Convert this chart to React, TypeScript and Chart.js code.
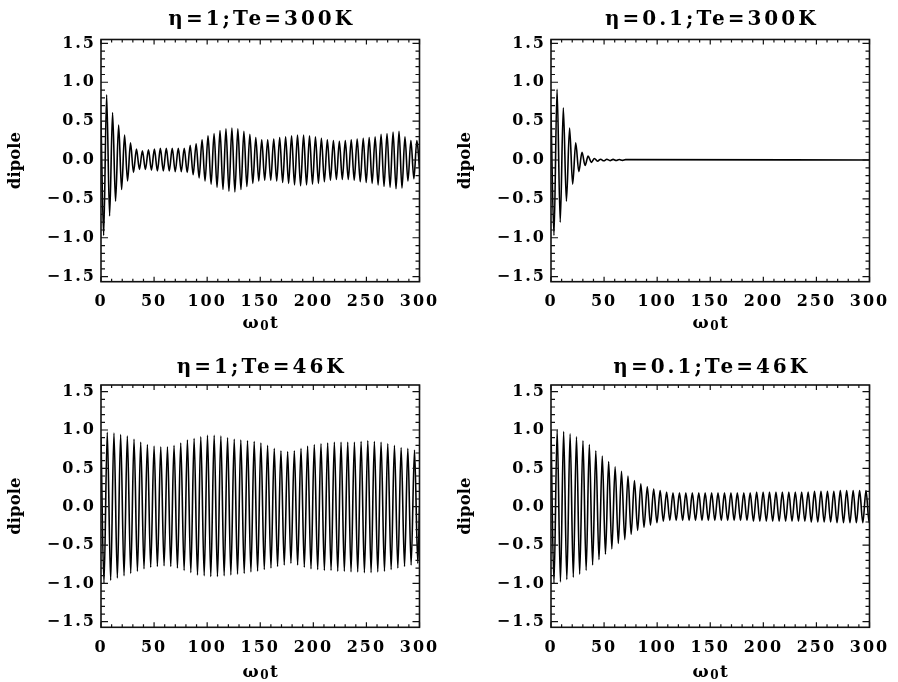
import React, { useEffect, useRef } from "react";
import { Chart, registerables } from "chart.js";

Chart.register(...registerables);

// ---------- text ----------
const titles = ["η=1;Te=300K", "η=0.1;Te=300K", "η=1;Te=46K", "η=0.1;Te=46K"];
const yTitle = "dipole";
const xTitleMain = "ω";
const xTitleSub = "0";
const xTitleEnd = "t";

// ---------- ticks ----------
const xTicks = [0, 50, 100, 150, 200, 250, 300];
const xTickLabels = ["0", "50", "100", "150", "200", "250", "300"];
const yTicks = [-1.5, -1.0, -0.5, 0, 0.5, 1.0, 1.5];
const yTickLabels = ["−1.5", "−1.0", "−0.5", "0.0", "0.5", "1.0", "1.5"];

// ---------- data: extrema of the oscillation ----------
// eta = 1, Te = 300K
const tlT = [0, 2.5, 5.3, 8.1, 10.9, 13.7, 16.6, 19.4, 22.2, 25.0, 27.8, 30.6, 33.4, 36.2, 39.0, 41.8, 44.7, 47.5, 50.3, 53.1, 55.9, 58.7, 61.5, 64.3, 67.1, 69.9, 72.8, 75.6, 78.4, 81.2, 84.0, 86.8, 89.6, 92.4, 95.2, 98.0, 100.8, 103.7, 106.5, 109.3, 112.1, 114.9, 117.7, 120.5, 123.3, 126.1, 128.9, 131.8, 134.6, 137.4, 140.2, 143.0, 145.8, 148.6, 151.4, 154.2, 157.0, 159.9, 162.7, 165.5, 168.3, 171.1, 173.9, 176.7, 179.5, 182.3, 185.1, 188.0, 190.8, 193.6, 196.4, 199.2, 202.0, 204.8, 207.6, 210.4, 213.2, 216.1, 218.9, 221.7, 224.5, 227.3, 230.1, 232.9, 235.7, 238.5, 241.3, 244.2, 247.0, 249.8, 252.6, 255.4, 258.2, 261.0, 263.8, 266.6, 269.4, 272.3, 275.1, 277.9, 280.7, 283.5, 286.3, 289.1, 291.9, 294.7, 297.5, 300];
const tlV = [0.5, -0.97, 0.84, -0.72, 0.61, -0.53, 0.45, -0.38, 0.32, -0.27, 0.22, -0.16, 0.14, -0.12, 0.12, -0.12, 0.13, -0.13, 0.14, -0.14, 0.15, -0.14, 0.15, -0.14, 0.15, -0.15, 0.15, -0.15, 0.15, -0.16, 0.19, -0.19, 0.21, -0.23, 0.26, -0.27, 0.31, -0.31, 0.34, -0.35, 0.38, -0.38, 0.40, -0.40, 0.41, -0.41, 0.40, -0.38, 0.37, -0.34, 0.33, -0.30, 0.29, -0.27, 0.26, -0.26, 0.26, -0.26, 0.27, -0.27, 0.29, -0.29, 0.30, -0.30, 0.31, -0.32, 0.32, -0.33, 0.32, -0.32, 0.31, -0.31, 0.30, -0.30, 0.28, -0.28, 0.26, -0.26, 0.25, -0.25, 0.24, -0.25, 0.25, -0.25, 0.26, -0.26, 0.27, -0.28, 0.28, -0.29, 0.29, -0.30, 0.30, -0.32, 0.33, -0.34, 0.34, -0.35, 0.36, -0.37, 0.37, -0.36, 0.30, -0.27, 0.25, -0.24, 0.25, -0.1];

// eta = 0.1, Te = 300K
const trT = [0, 2.8, 5.7, 8.7, 11.6, 14.5, 17.5, 20.4, 23.3, 26.2, 29.2, 32.1, 35.0, 38.0, 40.9, 43.8, 46.8, 49.7, 52.6, 55.6, 58.5, 61.4, 64.3, 67.3, 70.2, 300];
const trV = [0.6, -0.97, 0.91, -0.80, 0.67, -0.53, 0.41, -0.31, 0.22, -0.15, 0.10, -0.07, 0.05, -0.03, 0.02, -0.015, 0.01, -0.01, 0.01, -0.008, 0.008, -0.006, 0.006, -0.005, 0.005, 0];

// eta = 1, Te = 46K
const blT = [0, 2.8, 5.9, 9.1, 12.2, 15.4, 18.5, 21.7, 24.8, 28.0, 31.1, 34.3, 37.4, 40.5, 43.7, 46.8, 50.0, 53.1, 56.3, 59.4, 62.6, 65.7, 68.8, 72.0, 75.1, 78.3, 81.4, 84.6, 87.7, 90.9, 94.0, 97.2, 100.3, 103.4, 106.6, 109.7, 112.9, 116.0, 119.2, 122.3, 125.5, 128.6, 131.7, 134.9, 138.0, 141.2, 144.3, 147.5, 150.6, 153.8, 156.9, 160.1, 163.2, 166.3, 169.5, 172.6, 175.8, 178.9, 182.1, 185.2, 188.4, 191.5, 194.6, 197.8, 200.9, 204.1, 207.2, 210.4, 213.5, 216.7, 219.8, 223.0, 226.1, 229.2, 232.4, 235.5, 238.7, 241.8, 245.0, 248.1, 251.3, 254.4, 257.5, 260.7, 263.8, 267.0, 270.1, 273.3, 276.4, 279.6, 282.7, 285.9, 289.0, 292.1, 295.3, 298.4, 300];
const blV = [0.9, -1.00, 0.97, -0.96, 0.96, -0.93, 0.94, -0.90, 0.92, -0.87, 0.88, -0.84, 0.84, -0.81, 0.81, -0.79, 0.79, -0.78, 0.78, -0.77, 0.78, -0.78, 0.80, -0.80, 0.83, -0.83, 0.87, -0.86, 0.89, -0.89, 0.91, -0.90, 0.93, -0.91, 0.93, -0.91, 0.92, -0.90, 0.90, -0.89, 0.88, -0.88, 0.87, -0.87, 0.86, -0.85, 0.85, -0.84, 0.83, -0.82, 0.80, -0.80, 0.76, -0.78, 0.73, -0.76, 0.72, -0.74, 0.73, -0.76, 0.76, -0.79, 0.79, -0.81, 0.81, -0.82, 0.82, -0.83, 0.83, -0.83, 0.84, -0.84, 0.84, -0.84, 0.84, -0.85, 0.84, -0.85, 0.85, -0.86, 0.86, -0.86, 0.85, -0.85, 0.84, -0.84, 0.82, -0.82, 0.80, -0.80, 0.77, -0.78, 0.76, -0.76, 0.74, -0.74, 0.0];

// eta = 0.1, Te = 46K
const brT = [0, 2.8, 5.8, 8.9, 11.9, 14.9, 18.0, 21.0, 24.0, 27.0, 30.1, 33.1, 36.1, 39.2, 42.2, 45.2, 48.3, 51.3, 54.3, 57.3, 60.4, 63.4, 66.4, 69.5, 72.5, 75.5, 78.6, 81.6, 84.6, 87.6, 90.7, 93.7, 96.7, 99.8, 102.8, 105.8, 108.9, 111.9, 114.9, 117.9, 121.0, 124.0, 127.0, 130.1, 133.1, 136.1, 139.2, 142.2, 145.2, 148.2, 151.3, 154.3, 157.3, 160.4, 163.4, 166.4, 169.5, 172.5, 175.5, 178.5, 181.6, 184.6, 187.6, 190.7, 193.7, 196.7, 199.8, 202.8, 205.8, 208.8, 211.9, 214.9, 217.9, 221.0, 224.0, 227.0, 230.1, 233.1, 236.1, 239.1, 242.2, 245.2, 248.2, 251.3, 254.3, 257.3, 260.4, 263.4, 266.4, 269.4, 272.5, 275.5, 278.5, 281.6, 284.6, 287.6, 290.7, 293.7, 296.7, 299.7, 300];
const brV = [1.0, -1.0, 1.0, -0.98, 0.98, -0.95, 0.95, -0.92, 0.91, -0.88, 0.86, -0.83, 0.81, -0.76, 0.73, -0.69, 0.66, -0.62, 0.59, -0.55, 0.52, -0.48, 0.46, -0.43, 0.40, -0.36, 0.34, -0.31, 0.30, -0.27, 0.26, -0.24, 0.23, -0.21, 0.21, -0.19, 0.19, -0.18, 0.18, -0.18, 0.18, -0.18, 0.18, -0.18, 0.18, -0.18, 0.18, -0.18, 0.18, -0.18, 0.18, -0.18, 0.18, -0.18, 0.18, -0.18, 0.18, -0.18, 0.18, -0.18, 0.18, -0.18, 0.18, -0.19, 0.19, -0.19, 0.19, -0.19, 0.19, -0.19, 0.19, -0.19, 0.19, -0.19, 0.19, -0.19, 0.19, -0.19, 0.19, -0.19, 0.19, -0.20, 0.20, -0.20, 0.20, -0.20, 0.20, -0.20, 0.20, -0.21, 0.21, -0.21, 0.21, -0.21, 0.21, -0.21, 0.21, -0.21, 0.21, -0.21, -0.2];

const FONT = '"DejaVu Serif", "Liberation Serif", serif';

type PanelCfg = {
  left: number; top: number; w: number; h: number;
  area: { left: number; right: number; top: number; bottom: number };
  yMin: number; yMax: number;
  title: string; titleBase: number; xLabelY: number; yLabelX: number;
  t: number[]; v: number[];
};

function makeFramePlugin(p: PanelCfg) {
  return {
    id: "frameText",
    beforeDraw(chart: any) {
      chart.ctx.letterSpacing = "2px";
    },
    afterDraw(chart: any) {
      const { ctx, chartArea: a, scales } = chart;
      const xs = scales.x;
      const ys = scales.y;
      ctx.save();
      ctx.letterSpacing = "0px";
      ctx.strokeStyle = "#111";
      ctx.lineWidth = 1.6;
      ctx.strokeRect(a.left, a.top, a.right - a.left, a.bottom - a.top);
      ctx.lineWidth = 1.2;
      ctx.beginPath();
      for (let v = 0; v <= 300; v += 10) {
        const len = v % 50 === 0 ? 5 : 3;
        const x = xs.getPixelForValue(v);
        ctx.moveTo(x, a.bottom);
        ctx.lineTo(x, a.bottom - len);
        ctx.moveTo(x, a.top);
        ctx.lineTo(x, a.top + len);
      }
      for (let i = -15; i <= 15; i++) {
        const len = i % 5 === 0 ? 7 : 4;
        const y = ys.getPixelForValue(i / 10);
        ctx.moveTo(a.left, y);
        ctx.lineTo(a.left + len, y);
        ctx.moveTo(a.right, y);
        ctx.lineTo(a.right - len, y);
      }
      ctx.stroke();

      const cx = (a.left + a.right) / 2;
      ctx.fillStyle = "#000";
      // title
      ctx.font = `bold 20px ${FONT}`;
      ctx.letterSpacing = "3px";
      ctx.textAlign = "center";
      ctx.textBaseline = "alphabetic";
      ctx.fillText(p.title, cx + 1.5, p.titleBase);
      // x label: omega, subscript zero, t
      ctx.letterSpacing = "0px";
      ctx.textAlign = "left";
      const mainFont = `bold 17px ${FONT}`;
      const subFont = `bold 12px ${FONT}`;
      ctx.font = mainFont;
      const w1 = ctx.measureText(xTitleMain).width;
      const w3 = ctx.measureText(xTitleEnd).width;
      ctx.font = subFont;
      const w2 = ctx.measureText(xTitleSub).width;
      const gap = 1.5;
      const total = w1 + gap + w2 + gap + w3;
      let xx = cx - total / 2;
      const base = p.xLabelY + 5;
      ctx.font = mainFont;
      ctx.fillText(xTitleMain, xx, base);
      xx += w1 + gap;
      ctx.font = subFont;
      ctx.fillText(xTitleSub, xx, base + 2);
      xx += w2 + gap;
      ctx.font = mainFont;
      ctx.fillText(xTitleEnd, xx, base);
      // y label
      ctx.font = `bold 16.5px ${FONT}`;
      ctx.textAlign = "center";
      ctx.textBaseline = "middle";
      ctx.save();
      ctx.translate(p.yLabelX, (a.top + a.bottom) / 2);
      ctx.rotate(-Math.PI / 2);
      ctx.fillText(yTitle, 0, 0);
      ctx.restore();
      ctx.restore();
    },
  };
}

function makeConfig(p: PanelCfg): any {
  const pts = p.t.map((t, i) => ({ x: t, y: p.v[i] }));
  const tickFont = { family: FONT, size: 16, weight: "bold" as const };
  return {
    type: "line",
    data: {
      datasets: [
        {
          data: pts,
          borderColor: "#000",
          borderWidth: 1.6,
          pointRadius: 0,
          fill: false,
          cubicInterpolationMode: "monotone",
        },
      ],
    },
    options: {
      animation: false,
      responsive: false,
      devicePixelRatio: 1,
      events: [],
      layout: { padding: { left: 0, right: p.w - p.area.right, top: p.area.top, bottom: 0 } },
      plugins: { legend: { display: false }, tooltip: { enabled: false }, title: { display: false } },
      scales: {
        x: {
          type: "linear",
          min: 0,
          max: 300,
          grid: { display: false, drawTicks: false },
          border: { display: false },
          afterBuildTicks: (s: any) => {
            s.ticks = xTicks.map((v) => ({ value: v }));
          },
          afterFit: (s: any) => {
            s.height = p.h - p.area.bottom;
          },
          ticks: {
            font: tickFont,
            color: "#000",
            padding: 10.5,
            autoSkip: false,
            maxRotation: 0,
            minRotation: 0,
            callback: (_v: any, i: number) => xTickLabels[i],
          },
        },
        y: {
          type: "linear",
          min: p.yMin,
          max: p.yMax,
          grid: { display: false, drawTicks: false },
          border: { display: false },
          afterBuildTicks: (s: any) => {
            s.ticks = yTicks.map((v) => ({ value: v }));
          },
          afterFit: (s: any) => {
            s.width = p.area.left;
          },
          ticks: {
            font: tickFont,
            color: "#000",
            padding: 5,
            autoSkip: false,
            callback: (_v: any, i: number) => yTickLabels[i],
          },
        },
      },
    },
    plugins: [makeFramePlugin(p)],
  };
}

const topArea = { left: 101, right: 419.5, top: 39.5, bottom: 281.7 };
const botArea = { left: 101, right: 419.5, top: 44, bottom: 286.3 };

const panels: PanelCfg[] = [
  { left: 0, top: 0, w: 449, h: 341, area: topArea, yMin: -1.565, yMax: 1.55, title: titles[0], titleBase: 25, xLabelY: 323, yLabelX: 15.5, t: tlT, v: tlV },
  { left: 450, top: 0, w: 448, h: 341, area: topArea, yMin: -1.565, yMax: 1.55, title: titles[1], titleBase: 25, xLabelY: 323, yLabelX: 15.5, t: trT, v: trV },
  { left: 0, top: 341, w: 449, h: 341, area: botArea, yMin: -1.573, yMax: 1.587, title: titles[2], titleBase: 32.3, xLabelY: 330.7, yLabelX: 15.5, t: blT, v: blV },
  { left: 450, top: 341, w: 448, h: 341, area: botArea, yMin: -1.573, yMax: 1.587, title: titles[3], titleBase: 32.3, xLabelY: 330.7, yLabelX: 15.5, t: brT, v: brV },
];

function Panel({ p }: { p: PanelCfg }) {
  const ref = useRef<HTMLCanvasElement | null>(null);
  useEffect(() => {
    if (!ref.current) return;
    const chart = new Chart(ref.current, makeConfig(p));
    return () => chart.destroy();
  }, [p]);
  return (
    <div style={{ position: "absolute", left: p.left, top: p.top, width: p.w, height: p.h }}>
      <canvas ref={ref} width={p.w} height={p.h} style={{ display: "block", width: p.w, height: p.h }} />
    </div>
  );
}

export default function App() {
  return (
    <div style={{ position: "absolute", left: 0, top: 0, width: 898, height: 682, background: "#fff" }}>
      {panels.map((p, i) => (
        <Panel key={i} p={p} />
      ))}
    </div>
  );
}
